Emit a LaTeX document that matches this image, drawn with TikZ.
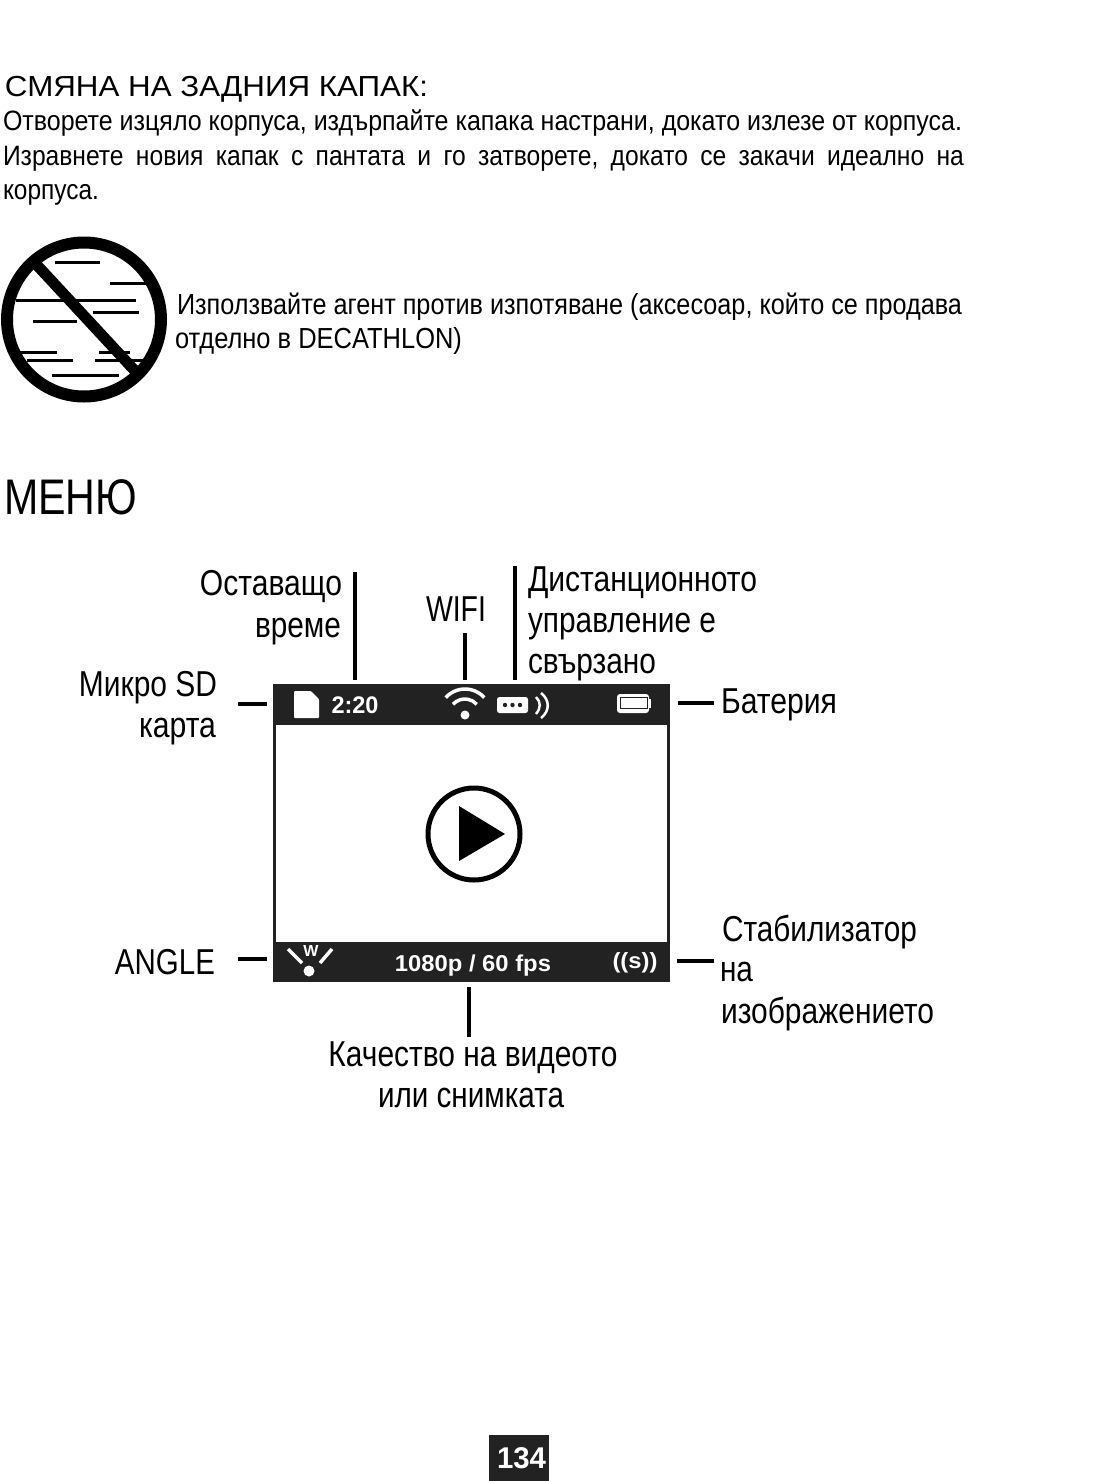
\documentclass[tikz,border=0pt]{standalone}
\usepackage{fontspec}
\usepackage{graphicx}
\setmainfont{Liberation Sans}
\newfontfamily\cond[FakeStretch=0.88]{Liberation Sans}
\newcommand{\fitw}[3]{\resizebox{#1pt}{\height}{\fontsize{#2}{#2}\selectfont #3}}
\definecolor{ink}{HTML}{222222}
\tikzset{
  txt/.style={inner sep=0pt,outer sep=0pt,anchor=base west,text=black},
  txr/.style={inner sep=0pt,outer sep=0pt,anchor=base east,text=black},
  txc/.style={inner sep=0pt,outer sep=0pt,anchor=base,text=black},
  leader/.style={draw=black,line width=3.6pt},
  fog/.style={draw=black,line width=3pt},
  wht/.style={draw=white,line width=3.5pt},
  inv/.style={inner sep=0pt,outer sep=0pt,anchor=base,text=white,font=\bfseries},
}
\begin{document}
\begin{tikzpicture}[x=1pt,y=-1pt]
\useasboundingbox[fill=white] (0,0) rectangle (1113,1481);
% heading text
\node[txt] (h1) at (5,96) {\fitw{423}{29}{СМЯНА НА ЗАДНИЯ КАПАК:}};
\node[txt] (p1) at (3,130) {\fitw{959}{28}{Отворете изцяло корпуса, издърпайте капака настрани, докато излезе от корпуса.}};
\node[txt] (p2) at (3,165) {\makebox[961pt][s]{\cond\fontsize{28}{28}\selectfont Изравнете\hfill новия\hfill капак\hfill с\hfill пантата\hfill и\hfill го\hfill затворете,\hfill докато\hfill се\hfill закачи\hfill идеално\hfill на}};
\node[txt] (p3) at (3,199) {\fitw{96}{28}{корпуса.}};
% no-fog icon
\foreach \xa/\xb/\yy in {55/100/262,110/148/283,16/136/300,93/139/312,33/77/321,17/57/352,99/130/352,27/73/360,95/147/360,52/119/375}
  \draw[fog] (\xa,\yy) -- (\xb,\yy);
\draw[black,line width=12pt] (84,319.5) circle (77);
\draw[black,line width=11pt] (35,263) -- (137,373);
\node[txt] (f1) at (177,314) {\fitw{785}{29}{Използвайте агент против изпотяване (аксесоар, който се продава}};
\node[txt] (f2) at (175,348) {\fitw{287}{29}{отделно в DECATHLON)}};
\node[txt] (menu) at (4,514) {\fitw{133}{50}{МЕНЮ}};
% screen
\node[draw=ink,line width=3pt,fill=white,minimum width=394pt,minimum height=295pt,inner sep=0pt,anchor=north west] (screen) at (273,684) {};
\fill[ink] (273,684) rectangle (670,725);
\fill[ink] (273,942) rectangle (670,982);
\draw[black,line width=5pt] (474,834) circle (46);
\fill[black] (459,806) -- (505,834) -- (459,861) -- cycle;
% top icons
\fill[white,rounded corners=1pt] (294,691) -- (311,691) -- (319,699) -- (319,718) -- (294,718) -- cycle;
\node[inv,font=\bfseries\fontsize{23}{23}\selectfont] (time) at (355,713) {\fitw{47}{24}{2:20}};
\fill[white] (465,715) circle (4.5);
\draw[wht] (453,704.3) arc[start angle=-138,end angle=-42,radius=16];
\draw[wht] (445.7,697.6) arc[start angle=-138,end angle=-42,radius=26];
\fill[white,rounded corners=2.5pt] (497,697) rectangle (528,713);
\foreach \xx in {505,512.5,520} \fill[ink] (\xx,705) circle (2.2);
\draw[white,line width=2.5pt] (536,697) .. controls (541,702) and (541,708) .. (536,714);
\draw[white,line width=2.5pt] (541,693) .. controls (550,700) and (550,711) .. (541,718);
\fill[white,rounded corners=3pt] (617,694) rectangle (649,713);
\fill[white] (649,699) rectangle (651,708);
\draw[ink,line width=0.6pt] (620,697) rectangle (647,708);
% bottom icons
\draw[white,line width=3.5pt] (288,949) -- (302,963);
\draw[white,line width=3.5pt] (332,949) -- (320,963);
\fill[white] (309,971) circle (5.5);
\node[inv,font=\bfseries\fontsize{16}{16}\selectfont] (wide) at (311,956) {W};
\node[inv,font=\bfseries\fontsize{23}{23}\selectfont] (quality) at (473,971) {\fitw{156}{23}{1080p / 60 fps}};
\node[inv,font=\bfseries\fontsize{22}{22}\selectfont] (stab) at (635,968) {\fitw{45}{22}{((s))}};
% labels
\node[txr] (l1a) at (342,595) {\fitw{142}{36}{Оставащо}};
\node[txr] (l1b) at (341,637) {\fitw{86}{36}{време}};
\node[txt] (l2) at (426,621) {\fitw{60}{36}{WIFI}};
\node[txt] (l3a) at (528,591) {\fitw{229}{36}{Дистанционното}};
\node[txt] (l3b) at (528,632) {\fitw{188}{36}{управление е}};
\node[txt] (l3c) at (528,673) {\fitw{128}{36}{свързано}};
\node[txr] (l4a) at (217,696) {\fitw{138}{36}{Микро SD}};
\node[txr] (l4b) at (216,737) {\fitw{77}{36}{карта}};
\node[txt] (l5) at (721,713) {\fitw{116}{36}{Батерия}};
\node[txr] (l6) at (215,974) {\fitw{100}{36}{ANGLE}};
\node[txt] (l7a) at (722,941) {\fitw{195}{36}{Стабилизатор}};
\node[txt] (l7b) at (720,981) {\fitw{33}{36}{на}};
\node[txt] (l7c) at (721,1023) {\fitw{213}{36}{изображението}};
\node[txc] (l8a) at (473,1066) {\fitw{289}{36}{Качество на видеото}};
\node[txc] (l8b) at (471,1107) {\fitw{186}{36}{или снимката}};
% leader lines
\coordinate (a1) at (355,572); \coordinate (b1) at (355,680);
\coordinate (a2) at (465,633); \coordinate (b2) at (465,680);
\coordinate (a3) at (515,566); \coordinate (b3) at (515,680);
\coordinate (a4) at (238,704); \coordinate (b4) at (267,704);
\coordinate (a5) at (714,703); \coordinate (b5) at (678,703);
\coordinate (a6) at (238,959); \coordinate (b6) at (267,959);
\coordinate (a7) at (714,961); \coordinate (b7) at (677,961);
\coordinate (a8) at (469,1037); \coordinate (b8) at (469,987);
\foreach \i in {1,...,8} \draw[leader] (a\i) -- (b\i);
% page number
\node[fill=ink,minimum width=60pt,minimum height=46pt,inner sep=0pt,anchor=north west] (pagebox) at (489,1435) {};
\node[inv,font=\bfseries\fontsize{30}{30}\selectfont] (page) at (521.5,1468) {\fitw{49}{30}{134}};
\end{tikzpicture}
\end{document}
